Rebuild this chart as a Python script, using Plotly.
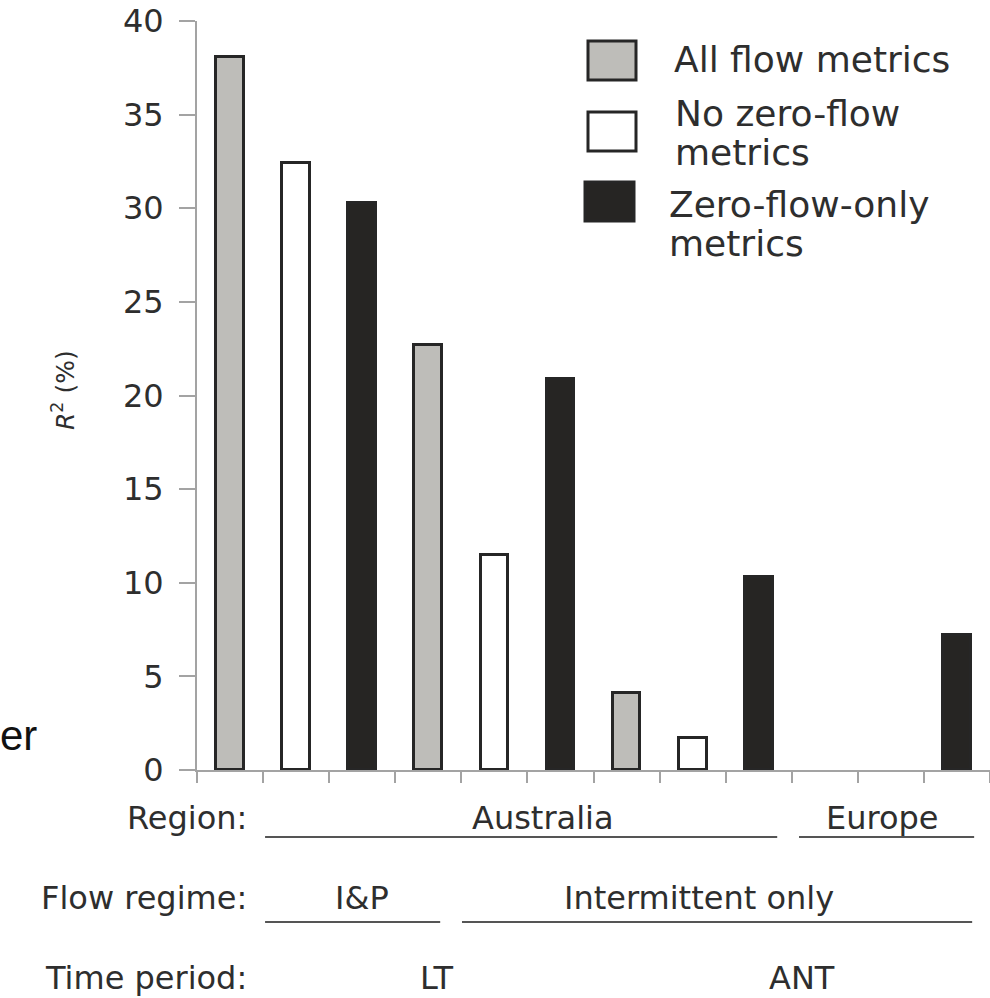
import plotly.graph_objects as go

# Bar slots along the x axis (12 slots, three metric sets repeated per group)
slots_all = [1, 4, 7, 10]
slots_nozero = [2, 5, 8, 11]
slots_zero = [3, 6, 9, 12]

# R² (%) values per metric set; None = no model for that slot
r2_all = [38.1, 22.7, 4.1, None]
r2_nozero = [32.4, 11.5, 1.7, None]
r2_zero = [30.3, 20.9, 10.3, 7.2]

series_names = ["All flow metrics", "No zero-flow metrics", "Zero-flow-only metrics"]
y_ticks = [0, 5, 10, 15, 20, 25, 30, 35, 40]

# Grouping labels under the axis: (text, start slot edge, end slot edge, text centre)
region_groups = [("Australia", 1.53, 9.28, 5.74), ("Europe", 9.61, 12.26, 10.87)]
regime_groups = [("I&P", 1.53, 4.18, 3.0), ("Intermittent only", 4.51, 12.23, 8.1)]
period_groups = [("LT", 4.12), ("ANT", 9.66)]

W, H = 990, 998
ML, MR, MT, MB = 197, 0, 21, 228
PW, PH = W - ML - MR, H - MT - MB

def px_x(px):
    return (px - ML) / PW

def px_y(py):
    return (H - MB - py) / PH

TEXT = "#2e2e2e"
AXIS = "#a3a3a3"
OUTLINE = "#262626"
FONT = "DejaVu Sans"

fills = ["#bebdb9", "#ffffff", "#262523"]

fig = go.Figure()
for name, xs, ys, fill in zip(series_names, [slots_all, slots_nozero, slots_zero],
                              [r2_all, r2_nozero, r2_zero], fills):
    fig.add_trace(go.Bar(
        x=xs, y=ys, name=name, width=0.42,
        marker=dict(color=fill, line=dict(color=OUTLINE, width=3)),
        showlegend=False,
    ))

fig.update_layout(
    width=W, height=H,
    margin=dict(l=ML, r=MR, t=MT, b=MB),
    paper_bgcolor="white", plot_bgcolor="white",
    bargap=0,
    xaxis=dict(
        range=[0.5, 12.5], tickvals=[i + 0.5 for i in range(13)],
        showticklabels=False, ticks="outside", ticklen=11, tickwidth=2,
        tickcolor=AXIS, showline=True, linecolor=AXIS, linewidth=2,
        showgrid=False, zeroline=False,
    ),
    yaxis=dict(
        range=[0, 40], tickvals=y_ticks, ticks="outside", ticklen=16,
        tickwidth=2, tickcolor=AXIS, showline=True, linecolor=AXIS,
        linewidth=2, showgrid=False, zeroline=False,
        tickfont=dict(family=FONT, size=32, color=TEXT),
        ticklabelstandoff=9,
    ),
)

shapes = []
annotations = []

# Axis title
annotations.append(dict(
    text="<i>R</i><sup>2</sup> (%)", xref="paper", yref="paper",
    x=px_x(63), y=px_y(390), textangle=-90, showarrow=False,
    font=dict(family=FONT, size=25, color=TEXT),
    xanchor="center", yanchor="middle",
))

# Caption fragment at the left edge
annotations.append(dict(
    text="er", xref="paper", yref="paper", x=px_x(39), y=px_y(735),
    showarrow=False, xanchor="right", yanchor="middle",
    font=dict(family="Liberation Sans", size=42, color="#111111"),
))

# Legend swatches and labels
legend_boxes = [(588, 636, 41, 80), (588, 636, 112, 151), (585, 634, 182, 221)]
for (x0, x1, y0, y1), fill in zip(legend_boxes, fills):
    shapes.append(dict(
        type="rect", xref="paper", yref="paper",
        x0=px_x(x0), x1=px_x(x1), y0=px_y(y0), y1=px_y(y1),
        fillcolor=fill, line=dict(color=OUTLINE, width=3),
    ))
legend_lines = [("All flow metrics", 672, 60), ("No zero-flow", 673, 113),
                ("metrics", 673, 152), ("Zero-flow-only", 667, 205),
                ("metrics", 667, 243)]
for txt, lx, ly in legend_lines:
    annotations.append(dict(
        text=txt, xref="paper", yref="paper", x=px_x(lx), y=px_y(ly),
        showarrow=False, xanchor="left", yanchor="middle",
        font=dict(family=FONT, size=36, color=TEXT),
    ))

# Row captions below the axis
rows = [("Region:", 818, 837), ("Flow regime:", 898, 922), ("Time period:", 978, None)]
for txt, ty, _ in rows:
    annotations.append(dict(
        text=txt, xref="paper", yref="paper", x=px_x(249), y=px_y(ty),
        showarrow=False, xanchor="right", yanchor="middle",
        font=dict(family=FONT, size=32, color=TEXT),
    ))

for groups, (_, ty, ly) in [(region_groups, rows[0]), (regime_groups, rows[1])]:
    for txt, a, b, c in groups:
        annotations.append(dict(
            text=txt, xref="x", yref="paper", x=c, y=px_y(ty),
            showarrow=False, xanchor="center", yanchor="middle",
            font=dict(family=FONT, size=32, color=TEXT),
        ))
        shapes.append(dict(
            type="line", xref="x", yref="paper", x0=a, x1=b,
            y0=px_y(ly), y1=px_y(ly), line=dict(color="#555555", width=2),
        ))

for txt, c in period_groups:
    annotations.append(dict(
        text=txt, xref="x", yref="paper", x=c, y=px_y(rows[2][1]),
        showarrow=False, xanchor="center", yanchor="middle",
        font=dict(family=FONT, size=32, color=TEXT),
    ))

fig.update_layout(shapes=shapes, annotations=annotations)
fig.write_html("out.html")
